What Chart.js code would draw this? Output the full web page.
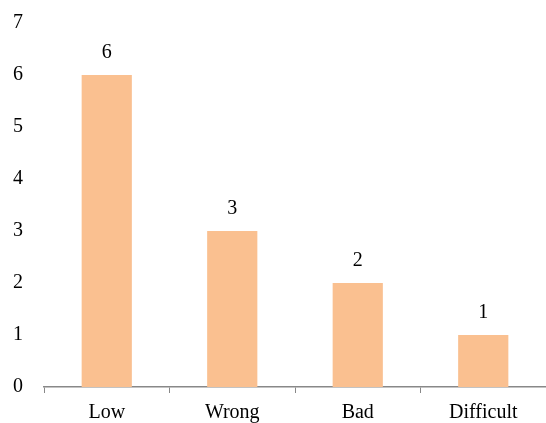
<!DOCTYPE html>
<html>
<head>
<meta charset="utf-8">
<script src="https://cdn.jsdelivr.net/npm/chart.js@4/dist/chart.umd.min.js"></script>
<style>
  html, body { margin: 0; padding: 0; background: #fff; overflow: hidden; }
  #wrap { width: 546px; height: 423px; }
</style>
</head>
<body>
<div id="wrap"><canvas id="barChart"></canvas></div>
<script>
const categories = ['Low', 'Wrong', 'Bad', 'Difficult'];
const counts = [6, 3, 2, 1];
const yTicks = [0, 1, 2, 3, 4, 5, 6, 7];

const serif = "'Liberation Serif', 'Times New Roman', serif";

// writes each bar's value just above it
const valueLabels = {
    id: 'valueLabels',
    afterDatasetsDraw(chart) {
        const ctx = chart.ctx;
        const meta = chart.getDatasetMeta(0);
        ctx.save();
        ctx.font = '20px ' + serif;
        ctx.fillStyle = '#000';
        ctx.textAlign = 'center';
        ctx.textBaseline = 'middle';
        meta.data.forEach((bar, i) => {
            ctx.fillText(counts[i], bar.x, bar.y - 22);
        });
        ctx.restore();
    }
};

new Chart(document.getElementById('barChart'), {
    type: 'bar',
    data: {
        labels: categories,
        datasets: [{
            data: counts,
            backgroundColor: '#FAC090',
            categoryPercentage: 1,
            barPercentage: 0.4
        }]
    },
    options: {
        responsive: true,
        maintainAspectRatio: false,
        animation: false,
        layout: { padding: { top: 20, right: 0, bottom: 0, left: 0 } },
        plugins: {
            legend: { display: false },
            tooltip: { enabled: false }
        },
        scales: {
            x: {
                grid: {
                    drawOnChartArea: false,
                    drawTicks: true,
                    tickLength: 6,
                    color: '#888'
                },
                border: { color: '#888', width: 1.5 },
                ticks: {
                    color: '#000',
                    padding: 8,
                    font: { family: serif, size: 20 }
                },
                afterFit(scale) { scale.height = 36; }
            },
            y: {
                min: 0,
                max: 7,
                grid: { display: false },
                border: { display: false },
                afterBuildTicks(scale) {
                    scale.ticks = yTicks.map(v => ({ value: v }));
                },
                ticks: {
                    color: '#000',
                    padding: 13,
                    font: { family: serif, size: 20, lineHeight: 1 }
                },
                afterFit(scale) { scale.width = 44; }
            }
        }
    },
    plugins: [valueLabels]
});
</script>
</body>
</html>
